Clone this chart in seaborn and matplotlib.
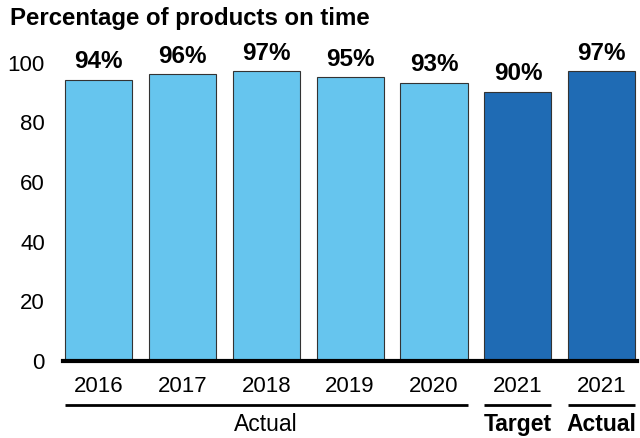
import matplotlib
matplotlib.use("Agg")
import matplotlib.pyplot as plt
import matplotlib.transforms as mtransforms
import seaborn as sns
import pandas as pd

# Data
bar_keys = ["2016", "2017", "2018", "2019", "2020", "2021 T", "2021 A"]
year_labels = ["2016", "2017", "2018", "2019", "2020", "2021", "2021"]
on_time_pct = [94, 96, 97, 95, 93, 90, 97]
period = ["past", "past", "past", "past", "past", "current", "current"]

group_names = ["Actual", "Target", "Actual"]
group_spans = [(0, 4), (5, 5), (6, 6)]
group_bold = [False, True, True]

palette = {"past": "#66C5EE", "current": "#1F6BB4"}

df = pd.DataFrame({"key": bar_keys, "pct": on_time_pct, "period": period})

sns.set_theme(style="white")
plt.rcParams["font.family"] = ["Liberation Sans", "DejaVu Sans"]

fig = plt.figure(figsize=(6.4, 4.38), dpi=100)
ax = fig.add_axes([0.0984, 0.1758, 0.8969, 0.7155])

sns.barplot(data=df, x="key", y="pct", hue="period", palette=palette,
            saturation=1, dodge=False, width=0.8, edgecolor="#333333",
            linewidth=0.8, legend=False, ax=ax, order=bar_keys)

for cont in ax.containers:
    ax.bar_label(cont, fmt="%d%%", padding=5, fontsize=17.5,
                 fontweight="bold", color="black")

ax.set_xlim(-0.423, 6.42)
ax.set_ylim(0, 105)
ax.set_yticks(range(0, 101, 20))
ax.set_xticks(range(len(year_labels)))
ax.set_xticklabels(year_labels)
ax.tick_params(axis="both", length=0, labelsize=16, colors="black")
ax.tick_params(axis="y", pad=13)
ax.tick_params(axis="x", pad=11)
ax.set_xlabel("")
ax.set_ylabel("")

for side in ["top", "right", "left"]:
    ax.spines[side].set_visible(False)
ax.spines["bottom"].set_color("black")
ax.spines["bottom"].set_linewidth(3)

# Group brackets under the year labels
trans = mtransforms.blended_transform_factory(ax.transData, ax.transAxes)
for name, (a, b), bold in zip(group_names, group_spans, group_bold):
    ax.plot([a - 0.4, b + 0.4], [-0.140, -0.140], color="black", lw=2,
            transform=trans, clip_on=False, solid_capstyle="butt")
    ax.text((a + b) / 2, -0.204, name, transform=trans, ha="center",
            va="center", fontsize=16.5,
            fontweight="bold" if bold else "normal", color="black")

fig.text(10 / 640, 1 - 19 / 438, "Percentage of products on time",
         fontsize=17.3, fontweight="bold", ha="left", va="center",
         color="black")

fig.savefig("out.png", dpi=100)
